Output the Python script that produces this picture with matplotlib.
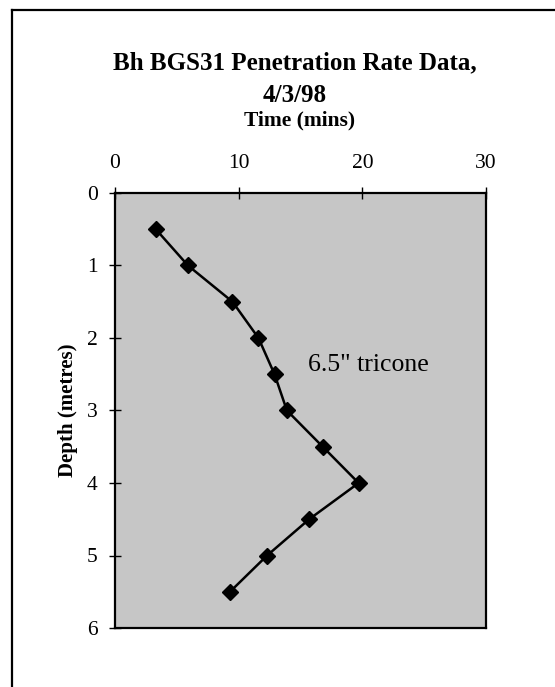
import numpy as np
import matplotlib.pyplot as plt
from matplotlib.lines import Line2D

# data
depth = [0.5, 1.0, 1.5, 2.0, 2.5, 3.0, 3.5, 4.0, 4.5, 5.0, 5.5]
time_mins = [3.3, 5.9, 9.5, 11.6, 12.9, 13.9, 16.8, 19.7, 15.7, 12.3, 9.3]
x_ticks = [0, 10, 20, 30]
y_ticks = [0, 1, 2, 3, 4, 5, 6]

plt.rcParams['font.family'] = ['Liberation Serif', 'DejaVu Serif']

fig = plt.figure(figsize=(5.55, 6.87), dpi=100)
ax = fig.add_axes([115 / 555, 1 - 628 / 687, 371 / 555, 435 / 687])

ax.set_facecolor('#c6c6c6')
ax.plot(time_mins, depth, color='black', lw=1.8, marker='D', ms=8.5,
        mfc='black', mec='black')

ax.set_xlim(0, 30)
ax.set_ylim(6, 0)
ax.set_xticks(x_ticks)
ax.set_yticks(y_ticks)
ax.xaxis.tick_top()
ax.tick_params(axis='x', direction='inout', length=9, width=1, labelsize=15.5, pad=10)
ax.tick_params(axis='y', direction='inout', length=9, width=1, labelsize=15.5, pad=8)
for s in ax.spines.values():
    s.set_linewidth(1.6)
    s.set_color('black')

ax.text(15.6, 2.37, '6.5" tricone', fontsize=18.5, va='center', ha='left')

ax.set_ylabel('Depth (metres)', fontsize=15, fontweight='bold', labelpad=6)

fig.text(295 / 555, 1 - 63 / 687, 'Bh BGS31 Penetration Rate Data,',
         ha='center', va='center', fontsize=18, fontweight='bold')
fig.text(295 / 555, 1 - 95 / 687, '4/3/98', ha='center', va='center',
         fontsize=18, fontweight='bold')
fig.text(300 / 555, 1 - 120 / 687, 'Time (mins)', ha='center', va='center',
         fontsize=15.5, fontweight='bold')

# outer frame (only top and left edges visible)
fig.add_artist(Line2D([12 / 555, 12 / 555], [0, 1 - 10 / 687],
                      transform=fig.transFigure, color='black', lw=1.6))
fig.add_artist(Line2D([12 / 555, 1], [1 - 10 / 687, 1 - 10 / 687],
                      transform=fig.transFigure, color='black', lw=1.6))

fig.savefig('out.png', dpi=100)
